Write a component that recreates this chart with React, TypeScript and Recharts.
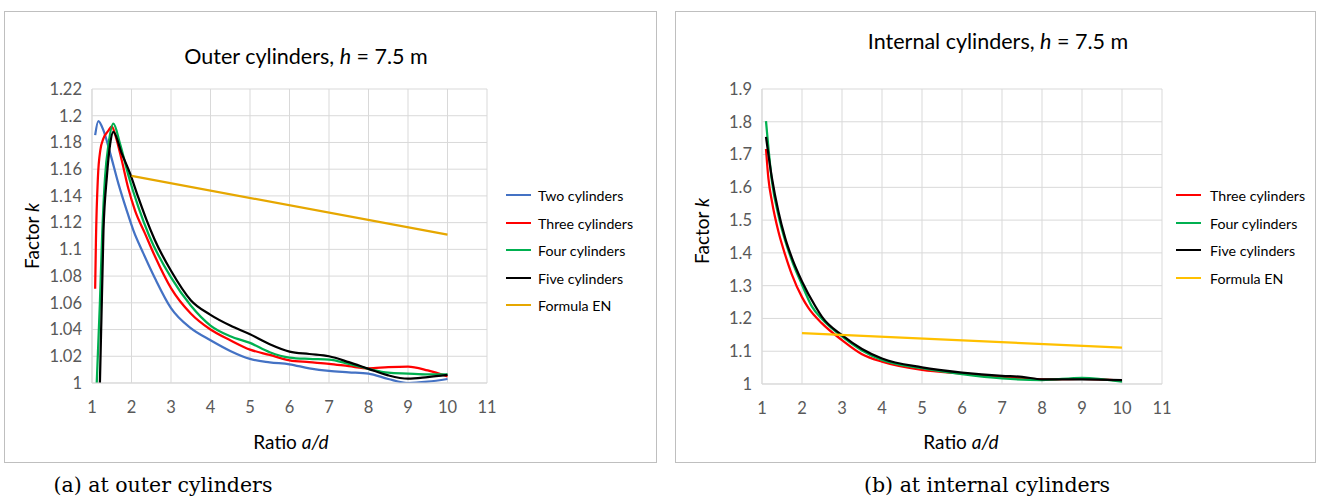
import React from "react";
import { LineChart, Line, XAxis, YAxis, CartesianGrid } from "recharts";

// ── Data: outer cylinders ────────────────────────────────

const outerTwoX = [1.08, 1.16, 1.29, 1.46, 1.67, 1.88, 2.05, 2.3, 2.6, 3, 3.5, 4, 4.5, 5, 5.5, 6, 6.5, 7, 7.5, 8, 8.5, 9, 9.5, 10];
const outerTwoK = [1.1855, 1.196, 1.189, 1.172, 1.149, 1.129, 1.114, 1.097, 1.078, 1.056, 1.041, 1.032, 1.024, 1.018, 1.0155, 1.014, 1.011, 1.009, 1.008, 1.007, 1.003, 1.0, 1.001, 1.003];

const outerThreeX = [1.08, 1.1, 1.15, 1.21, 1.29, 1.42, 1.5, 1.59, 1.75, 1.92, 2.09, 2.34, 2.59, 3, 3.5, 4, 4.5, 5, 5.5, 6, 6.5, 7, 7.5, 8, 8.5, 9, 9.5, 10];
const outerThreeK = [1.0705, 1.107, 1.154, 1.174, 1.183, 1.189, 1.192, 1.1855, 1.167, 1.1455, 1.129, 1.112, 1.095, 1.071, 1.052, 1.04, 1.032, 1.025, 1.021, 1.017, 1.0156, 1.0143, 1.0126, 1.011, 1.0119, 1.0123, 1.0094, 1.005];

const outerFourX = [1.12, 1.2, 1.26, 1.33, 1.42, 1.54, 1.71, 1.92, 2.17, 2.45, 3, 3.5, 4, 4.5, 5, 5.5, 6, 6.5, 7, 7.5, 8, 8.5, 9, 9.5, 10];
const outerFourK = [1.0, 1.06, 1.113, 1.154, 1.179, 1.194, 1.179, 1.1555, 1.132, 1.11, 1.079, 1.058, 1.043, 1.035, 1.03, 1.023, 1.019, 1.018, 1.0175, 1.0143, 1.0106, 1.0077, 1.007, 1.0064, 1.0064];

const outerFiveX = [1.2, 1.29, 1.375, 1.46, 1.54, 1.75, 1.96, 2.17, 2.38, 2.59, 3, 3.5, 4, 4.5, 5, 5.5, 6, 6.5, 7, 7.5, 8, 8.5, 9, 9.5, 10];
const outerFiveK = [1.0, 1.114, 1.154, 1.179, 1.188, 1.172, 1.157, 1.139, 1.122, 1.107, 1.084, 1.062, 1.051, 1.043, 1.0365, 1.029, 1.0235, 1.0217, 1.02, 1.0156, 1.0106, 1.0057, 1.0032, 1.0044, 1.006];

const outerEnX = [2, 10];
const outerEnK = [1.155, 1.111];

const outerYTicks = [1, 1.02, 1.04, 1.06, 1.08, 1.1, 1.12, 1.14, 1.16, 1.18, 1.2, 1.22];

// ── Data: internal cylinders ─────────────────────────────

const innerThreeX = [1.1, 1.16, 1.25, 1.41, 1.58, 1.75, 2, 2.16, 2.5, 3, 3.5, 4, 5, 6, 7, 8, 9, 10];
const innerThreeK = [1.717, 1.627, 1.556, 1.465, 1.394, 1.333, 1.265, 1.232, 1.185, 1.134, 1.091, 1.068, 1.043, 1.032, 1.022, 1.014, 1.016, 1.01];

const innerFourX = [1.1, 1.25, 1.41, 1.58, 1.75, 2, 2.25, 2.5, 3, 3.5, 4, 5, 6, 7, 8, 9, 10];
const innerFourK = [1.802, 1.617, 1.515, 1.437, 1.376, 1.303, 1.236, 1.198, 1.145, 1.102, 1.073, 1.048, 1.03, 1.017, 1.012, 1.019, 1.007];

const innerFiveX = [1.1, 1.25, 1.41, 1.58, 1.75, 2, 2.33, 2.5, 3, 3.5, 4, 5, 6, 7, 7.5, 8, 9, 10];
const innerFiveK = [1.754, 1.627, 1.526, 1.445, 1.384, 1.313, 1.238, 1.205, 1.149, 1.107, 1.078, 1.051, 1.035, 1.025, 1.022, 1.014, 1.014, 1.012];

const innerEnX = [2, 10];
const innerEnK = [1.155, 1.111];

const innerYTicks = [1, 1.1, 1.2, 1.3, 1.4, 1.5, 1.6, 1.7, 1.8, 1.9];

const xTicks = [1, 2, 3, 4, 5, 6, 7, 8, 9, 10, 11];

// ── Shared styles ────────────────────────────────────────

const FONT = "Lato, 'Noto Sans', sans-serif";
const GRID = "#d9d9d9";
const TICK = { fill: "#595959", fontSize: 16.5, fontFamily: FONT };

const zip = (xs: number[], ks: number[]) => xs.map((x, i) => ({ x, k: ks[i] }));
const fmt = (v: number) => String(Number(v.toFixed(2)));

type Series = { name: string; color: string; data: { x: number; k: number }[] };

const outerSeries: Series[] = [
  { name: "Two cylinders", color: "#4472C4", data: zip(outerTwoX, outerTwoK) },
  { name: "Three cylinders", color: "#FF0000", data: zip(outerThreeX, outerThreeK) },
  { name: "Four cylinders", color: "#00B050", data: zip(outerFourX, outerFourK) },
  { name: "Five cylinders", color: "#000000", data: zip(outerFiveX, outerFiveK) },
  { name: "Formula EN", color: "#E6A700", data: zip(outerEnX, outerEnK) },
];

const innerSeries: Series[] = [
  { name: "Three cylinders", color: "#FF0000", data: zip(innerThreeX, innerThreeK) },
  { name: "Four cylinders", color: "#00B050", data: zip(innerFourX, innerFourK) },
  { name: "Five cylinders", color: "#000000", data: zip(innerFiveX, innerFiveK) },
  { name: "Formula EN", color: "#FFC000", data: zip(innerEnX, innerEnK) },
];

// ── One framed chart ─────────────────────────────────────

function Panel(props: {
  left: number;
  width: number;
  yWidth: number;
  right: number;
  bottom: number;
  yTicks: number[];
  series: Series[];
  title: string;
  titleX: number;
  titleY: number;
  yLabelX: number;
  yLabelY: number;
  xLabelX: number;
  legendLine: number;
  legendText: number;
}) {
  const p = props;
  const abs = (x: number, y: number): React.CSSProperties => ({
    position: "absolute",
    left: x,
    top: y,
    transform: "translate(-50%, -50%)",
    whiteSpace: "nowrap",
    fontFamily: FONT,
    color: "#000",
  });

  return (
    <div
      style={{
        position: "absolute",
        left: p.left,
        top: 11,
        width: p.width,
        height: 452,
        boxSizing: "border-box",
        border: "1px solid #bfbfbf",
        background: "#fff",
      }}
    >
      <div style={{ position: "absolute", left: -1, top: -1 }}>
        <LineChart
          width={p.width}
          height={452}
          margin={{ top: 78, right: p.right, bottom: p.bottom, left: 0 }}
        >
          <CartesianGrid stroke={GRID} strokeWidth={1} />
          <XAxis
            type="number"
            dataKey="x"
            domain={[1, 11]}
            ticks={xTicks}
            allowDuplicatedCategory={false}
            height={40}
            stroke={GRID}
            tickLine={false}
            tickSize={0}
            tickMargin={18}
            tick={TICK}
          />
          <YAxis
            type="number"
            dataKey="k"
            domain={[p.yTicks[0], p.yTicks[p.yTicks.length - 1]]}
            ticks={p.yTicks}
            allowDataOverflow
            width={p.yWidth}
            stroke={GRID}
            tickLine={false}
            tickSize={0}
            tickMargin={10}
            tickFormatter={fmt}
            tick={TICK}
          />
          {p.series.map((s) => (
            <Line
              key={s.name}
              data={s.data}
              dataKey="k"
              name={s.name}
              type="monotone"
              stroke={s.color}
              strokeWidth={2.25}
              dot={false}
              activeDot={false}
              isAnimationActive={false}
            />
          ))}
        </LineChart>
      </div>

      <div style={{ ...abs(p.titleX, p.titleY), fontSize: 21.5 }}>
        {p.title}, <i>h</i> = 7.5 m
      </div>
      <div
        style={{
          ...abs(p.yLabelX, p.yLabelY),
          transform: "translate(-50%, -50%) rotate(-90deg)",
          fontSize: 19,
        }}
      >
        Factor <i>k</i>
      </div>
      <div style={{ ...abs(p.xLabelX, 429), fontSize: 19 }}>
        Ratio <i>a/d</i>
      </div>

      {p.series.map((s, i) => (
        <div
          key={s.name}
          style={{
            position: "absolute",
            left: p.legendLine,
            top: Math.round(183 + i * 27.5) - 10,
            height: 20,
            display: "flex",
            alignItems: "center",
            fontFamily: FONT,
            fontSize: 14.2,
            whiteSpace: "nowrap",
          }}
        >
          <div style={{ width: 25, height: 2, background: s.color }} />
          <span style={{ marginLeft: p.legendText - p.legendLine - 25 }}>{s.name}</span>
        </div>
      ))}
    </div>
  );
}

export default function App() {
  const caption = (x: number): React.CSSProperties => ({
    position: "absolute",
    left: x,
    top: 485,
    transform: "translate(-50%, -50%)",
    fontFamily: "'DejaVu Serif', 'Liberation Serif', serif",
    fontSize: 20.5,
    whiteSpace: "nowrap",
  });

  return (
    <div style={{ position: "absolute", left: 0, top: 0, width: 1320, height: 499, background: "#fff" }}>
      <Panel
        left={4}
        width={653}
        yWidth={88}
        right={170}
        bottom={40}
        yTicks={outerYTicks}
        series={outerSeries}
        title="Outer cylinders"
        titleX={301}
        titleY={44}
        yLabelX={26}
        yLabelY={224}
        xLabelX={286}
        legendLine={501}
        legendText={533}
      />
      <Panel
        left={675}
        width={641}
        yWidth={87}
        right={154}
        bottom={39}
        yTicks={innerYTicks}
        series={innerSeries}
        title="Internal cylinders"
        titleX={322}
        titleY={29}
        yLabelX={25}
        yLabelY={219}
        xLabelX={285}
        legendLine={500}
        legendText={534}
      />
      <div style={caption(163)}>(a) at outer cylinders</div>
      <div style={caption(987)}>(b) at internal cylinders</div>
    </div>
  );
}
